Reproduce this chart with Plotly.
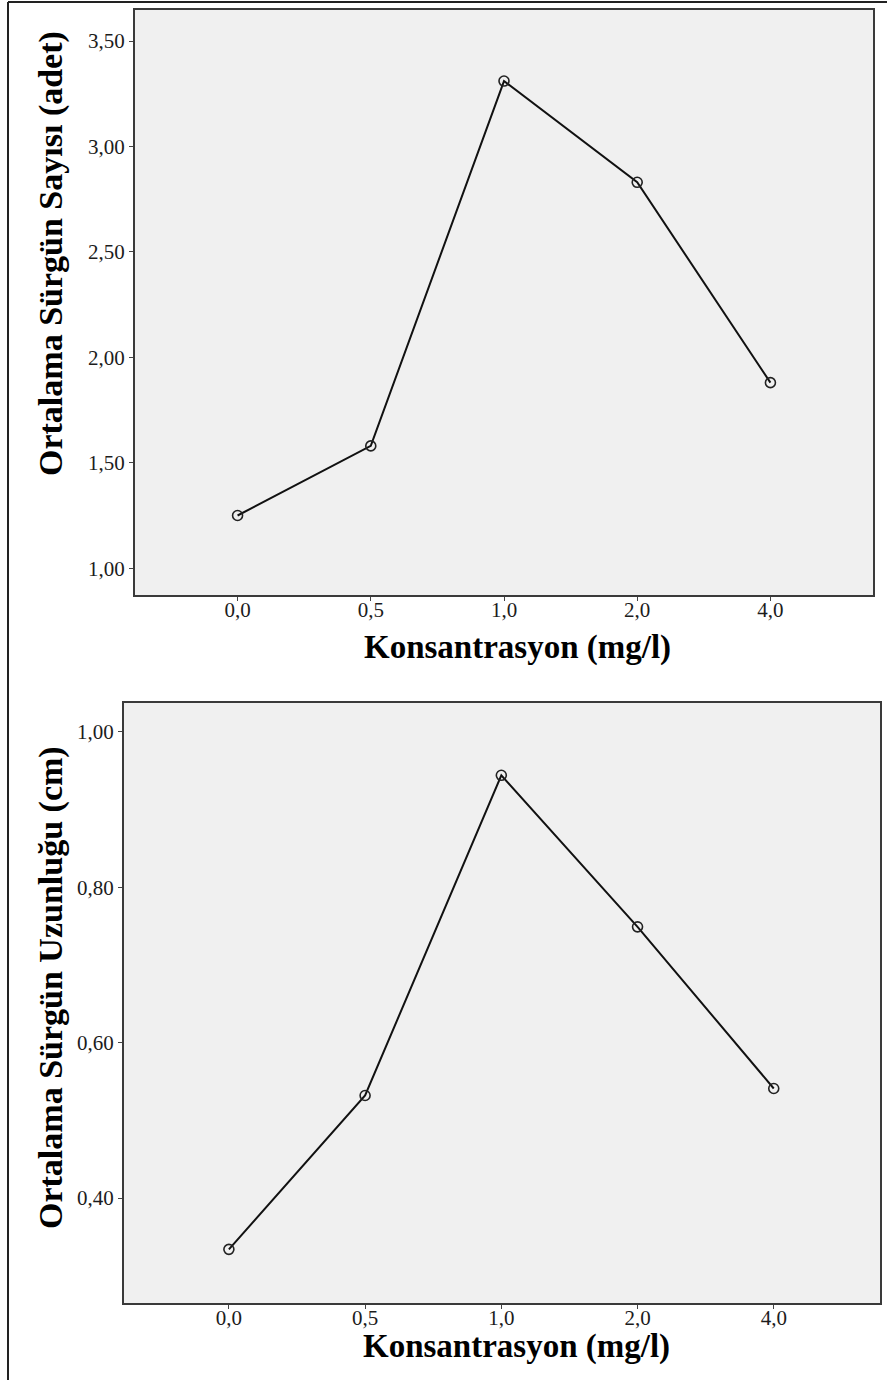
import plotly.graph_objects as go

W, H = 887, 1380

categories = ["0,0", "0,5", "1,0", "2,0", "4,0"]
shoot_count = [1.25, 1.58, 3.31, 2.83, 1.88]
shoot_length = [0.334, 0.532, 0.944, 0.749, 0.541]

top_ticks = [1.0, 1.5, 2.0, 2.5, 3.0, 3.5]
top_ticklabels = ["1,00", "1,50", "2,00", "2,50", "3,00", "3,50"]
bot_ticks = [0.4, 0.6, 0.8, 1.0]
bot_ticklabels = ["0,40", "0,60", "0,80", "1,00"]

x_title = "Konsantrasyon (mg/l)"
y_title_top = "Ortalama Sürgün Sayısı (adet)"
y_title_bot = "Ortalama Sürgün Uzunluğu (cm)"

FONT = "Liberation Serif, Times New Roman, serif"
INK = "#1c1c1c"

def px_x(v):
    return v / W

def px_y(v):
    return 1 - v / H

fig = go.Figure()

marker = dict(symbol="circle-open", size=10, color="#222", line=dict(width=1.6, color="#222"))
fig.add_trace(go.Scatter(x=categories, y=shoot_count, mode="lines+markers",
                         line=dict(color="#111", width=2), marker=marker,
                         xaxis="x", yaxis="y", showlegend=False))
fig.add_trace(go.Scatter(x=categories, y=shoot_length, mode="lines+markers",
                         line=dict(color="#111", width=2), marker=marker,
                         xaxis="x2", yaxis="y2", showlegend=False))

axis_common = dict(showgrid=False, zeroline=False, showline=True, linecolor="#3a3a3a",
                   linewidth=2, mirror=True, ticks="outside", ticklen=4, tickwidth=1,
                   tickcolor="#444", tickfont=dict(family=FONT, size=21, color=INK))

fig.update_layout(
    width=W, height=H,
    margin=dict(l=0, r=0, t=0, b=0),
    paper_bgcolor="white",
    plot_bgcolor="#f0f0f0",
    xaxis=dict(domain=[px_x(135), px_x(873)], anchor="y", type="category",
               range=[-0.77, 4.77], ticklabelstandoff=-9, **axis_common),
    yaxis=dict(domain=[px_y(595), px_y(10)], anchor="x", range=[0.873, 3.647],
               tickvals=top_ticks, ticktext=top_ticklabels, **axis_common),
    xaxis2=dict(domain=[px_x(124), px_x(880)], anchor="y2", type="category",
                range=[-0.77, 4.78], ticklabelstandoff=-9, **axis_common),
    yaxis2=dict(domain=[px_y(1303), px_y(703)], anchor="x2", range=[0.265, 1.037],
                tickvals=bot_ticks, ticktext=bot_ticklabels, **axis_common),
)

fig.add_annotation(text="<b>%s</b>" % x_title, xref="paper", yref="paper",
                   x=px_x(517), y=px_y(647), showarrow=False,
                   font=dict(family=FONT, size=33, color="#000"),
                   xanchor="center", yanchor="middle")
fig.add_annotation(text="<b>%s</b>" % x_title, xref="paper", yref="paper",
                   x=px_x(516), y=px_y(1346), showarrow=False,
                   font=dict(family=FONT, size=33, color="#000"),
                   xanchor="center", yanchor="middle")
fig.add_annotation(text="<b>%s</b>" % y_title_top, xref="paper", yref="paper",
                   x=px_x(51), y=px_y(254), showarrow=False,
                   font=dict(family=FONT, size=34, color="#000"),
                   textangle=-90, xanchor="center", yanchor="middle")
fig.add_annotation(text="<b>%s</b>" % y_title_bot, xref="paper", yref="paper",
                   x=px_x(51), y=px_y(988), showarrow=False,
                   font=dict(family=FONT, size=34, color="#000"),
                   textangle=-90, xanchor="center", yanchor="middle")

# outer frame
fig.add_shape(type="line", xref="paper", yref="paper", x0=px_x(8), x1=px_x(8), y0=0, y1=px_y(2),
              line=dict(color="#222", width=2))
fig.add_shape(type="line", xref="paper", yref="paper", x0=px_x(8), x1=1, y0=px_y(2), y1=px_y(2),
              line=dict(color="#222", width=2))

fig.write_html("out.html", config={"displayModeBar": False},
               post_script="document.body.style.margin='0';document.body.style.overflow='hidden';")
